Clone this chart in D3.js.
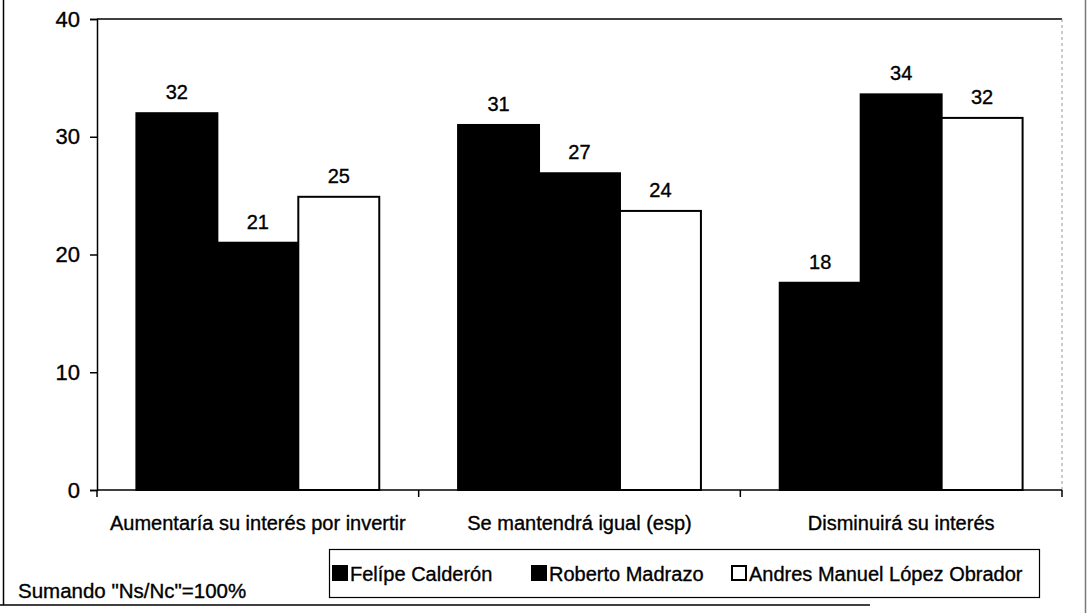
<!DOCTYPE html>
<html>
<head>
<meta charset="utf-8">
<script src="https://cdn.jsdelivr.net/npm/d3@7"></script>
<style>
  body { margin: 0; background: #fff; }
  svg { display: block; font-family: "Liberation Sans", Arial, sans-serif; }
  text { stroke: #000; stroke-width: 0.35px; }
</style>
</head>
<body>
<svg id="chart"></svg>
<script>
const categories = ["Aumentaría su interés por invertir", "Se mantendrá igual (esp)", "Disminuirá su interés"];
const seriesNames = ["Felípe Calderón", "Roberto Madrazo", "Andres Manuel López Obrador"];
const calderon = [32.0, 31.0, 17.6];
const madrazo = [21.0, 26.9, 33.6];
const lopezObrador = [24.9, 23.7, 31.6];
const yTicks = [0, 10, 20, 30, 40];
const note = "Sumando \"Ns/Nc\"=100%";

const seriesValues = [calderon, madrazo, lopezObrador];
const fills = ["#000", "#000", "#fff"];

const width = 1089;
const height = 613;
const plotLeft = 97, plotRight = 1062, plotTop = 19, plotBottom = 490;

const svg = d3.select("#chart")
  .attr("width", width)
  .attr("height", height);

// outer frame
svg.append("line").attr("x1", 3.5).attr("x2", 3.5).attr("y1", 0).attr("y2", 605)
  .attr("stroke", "#000").attr("stroke-width", 1.5);
svg.append("line").attr("x1", 0).attr("x2", 870).attr("y1", 605).attr("y2", 605)
  .attr("stroke", "#000").attr("stroke-width", 1.5);
svg.append("line").attr("x1", 1085.5).attr("x2", 1085.5).attr("y1", 0).attr("y2", 613)
  .attr("stroke", "#777").attr("stroke-width", 1.5);

const x0 = d3.scaleBand()
  .domain(categories)
  .range([plotLeft, plotRight])
  .paddingInner(0.245)
  .paddingOuter(0.1225);

const x1 = d3.scaleBand()
  .domain(seriesNames)
  .range([0, x0.bandwidth()]);

const y = d3.scaleLinear()
  .domain([0, 40])
  .range([plotBottom, plotTop]);

// plot frame: top solid, right faint dashed
svg.append("line").attr("x1", plotLeft).attr("x2", plotRight).attr("y1", plotTop).attr("y2", plotTop)
  .attr("stroke", "#000").attr("stroke-width", 1.5);
svg.append("line").attr("x1", plotRight).attr("x2", plotRight).attr("y1", plotTop).attr("y2", plotBottom)
  .attr("stroke", "#999").attr("stroke-width", 1).attr("stroke-dasharray", "3,3");

const groups = svg.append("g")
  .selectAll("g")
  .data(categories)
  .enter()
  .append("g")
  .attr("transform", d => `translate(${x0(d)},0)`);

groups.selectAll("rect")
  .data((c, i) => seriesNames.map((s, j) => ({ s, j, v: seriesValues[j][i] })))
  .enter()
  .append("rect")
  .attr("x", d => x1(d.s))
  .attr("y", d => y(d.v))
  .attr("width", x1.bandwidth())
  .attr("height", d => y(0) - y(d.v))
  .attr("fill", d => fills[d.j])
  .attr("stroke", "#000")
  .attr("stroke-width", 2);

groups.selectAll("text")
  .data((c, i) => seriesNames.map((s, j) => ({ s, j, v: seriesValues[j][i] })))
  .enter()
  .append("text")
  .attr("x", d => x1(d.s) + x1.bandwidth() / 2)
  .attr("y", d => y(d.v) - 14)
  .attr("text-anchor", "middle")
  .attr("font-size", 20)
  .text(d => d3.format(".0f")(d.v));

// y axis
const yAxis = d3.axisLeft(y).tickValues(yTicks).tickSize(7).tickPadding(10);
const gy = svg.append("g")
  .attr("transform", `translate(${plotLeft},0)`)
  .call(yAxis);
gy.select(".domain").attr("stroke", "#000").attr("stroke-width", 1.5);
gy.selectAll(".tick line").attr("stroke", "#000").attr("stroke-width", 1.5);
gy.selectAll(".tick text").attr("font-size", 22).attr("fill", "#000")
  .attr("font-family", "Liberation Sans, Arial, sans-serif");

// x axis: ticks at group boundaries
const gx = svg.append("g").attr("transform", `translate(0,${plotBottom})`);
gx.append("line").attr("x1", plotLeft).attr("x2", plotRight).attr("y1", 0).attr("y2", 0)
  .attr("stroke", "#000").attr("stroke-width", 1.5);
const boundaries = categories.map(c => x0(c) - x0.step() * x0.paddingInner() / 2)
  .concat([plotRight]);
gx.selectAll(".bt")
  .data(boundaries)
  .enter()
  .append("line")
  .attr("x1", d => d).attr("x2", d => d)
  .attr("y1", 0).attr("y2", 7)
  .attr("stroke", "#000").attr("stroke-width", 1.5);
gx.selectAll(".cat")
  .data(categories)
  .enter()
  .append("text")
  .attr("x", d => x0(d) + x0.bandwidth() / 2)
  .attr("y", 40)
  .attr("text-anchor", "middle")
  .attr("font-size", 20)
  .text(d => d);

// legend
const legendX = [333, 532, 732];
const legend = svg.append("g");
legend.append("rect")
  .attr("x", 329.5).attr("y", 549.5)
  .attr("width", 710).attr("height", 48)
  .attr("fill", "#fff").attr("stroke", "#000").attr("stroke-width", 1.2);
const items = legend.selectAll(".item")
  .data(seriesNames)
  .enter()
  .append("g")
  .attr("transform", (d, i) => `translate(${legendX[i]},0)`);
items.append("rect")
  .attr("x", 0).attr("y", 566)
  .attr("width", 14).attr("height", 14)
  .attr("fill", (d, i) => fills[i])
  .attr("stroke", "#000").attr("stroke-width", 2);
items.append("text")
  .attr("x", 17).attr("y", 581)
  .attr("font-size", 20)
  .text(d => d);

svg.append("text")
  .attr("x", 18).attr("y", 598)
  .attr("font-size", 20.5)
  .text(note);
</script>
</body>
</html>
